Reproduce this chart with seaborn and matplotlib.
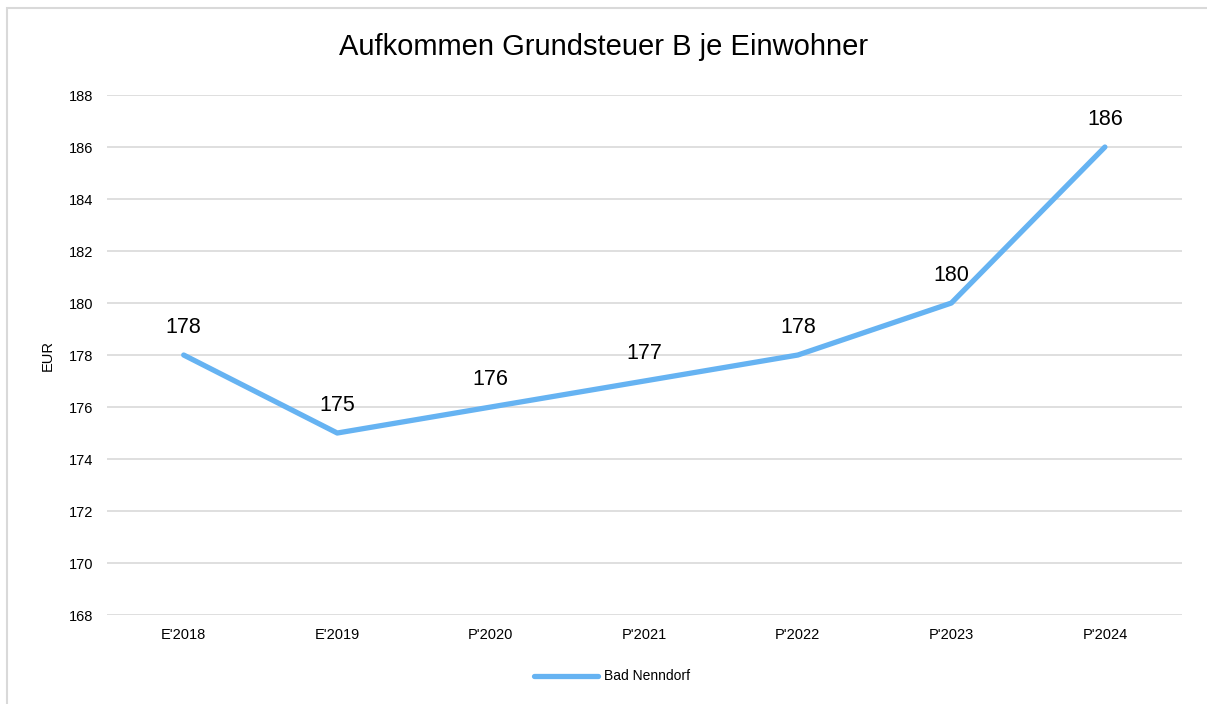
import matplotlib
matplotlib.use("Agg")
import matplotlib.pyplot as plt
import seaborn as sns
import pandas as pd
from matplotlib.patches import Rectangle

# Daten
jahre = ["E'2018", "E'2019", "P'2020", "P'2021", "P'2022", "P'2023", "P'2024"]
werte = [178, 175, 176, 177, 178, 180, 186]
serie = "Bad Nenndorf"
y_ticks = [168, 170, 172, 174, 176, 178, 180, 182, 184, 186, 188]

sns.set_theme(style="white")
plt.rcParams["font.family"] = ["Liberation Sans", "DejaVu Sans"]
plt.rcParams["text.color"] = "#000000"

df = pd.DataFrame({"Jahr": jahre, "EUR": werte, "Gemeinde": serie})
farbe = "#66B3F2"

fig = plt.figure(figsize=(12.07, 7.04), dpi=100)
ax = fig.add_axes([0.0886, 0.1264, 0.8904, 0.7386])

sns.lineplot(data=df, x="Jahr", y="EUR", hue="Gemeinde", palette=[farbe],
             linewidth=3.8, sort=False, ax=ax, legend=True)
for line in ax.get_lines():
    line.set_solid_capstyle("round")
    line.set_solid_joinstyle("round")

for i, v in enumerate(werte):
    ax.annotate(str(v), (i, v), xytext=(0, 12), textcoords="offset points",
                ha="center", va="bottom", fontsize=15.5, color="#000000")

ax.set_xlim(-0.5, len(jahre) - 0.5)
ax.set_ylim(168, 188)
ax.set_yticks(y_ticks)
ax.yaxis.grid(True, color="#D9D9D9", linewidth=1.2)
ax.xaxis.grid(False)
for s in ax.spines.values():
    s.set_visible(False)
ax.tick_params(axis="both", length=0, labelsize=10.5, colors="#000000")
ax.tick_params(axis="y", pad=10)
ax.tick_params(axis="x", pad=9)
ax.set_xlabel("")
ax.set_ylabel("EUR", fontsize=10.5, labelpad=10, color="#000000")

fig.text(0.5, 1 - 47 / 704, "Aufkommen Grundsteuer B je Einwohner",
         fontsize=21, ha="center", va="center", color="#000000")

leg = ax.legend(loc="center", bbox_to_anchor=(0.47, -0.118), frameon=False,
                fontsize=10, handlelength=4.6, handletextpad=0.4)
for h in leg.get_lines():
    h.set_linewidth(3.8)
    h.set_solid_capstyle("round")

fig.patches.append(Rectangle((7 / 1207, -0.1), 1.5, 1 - 8 / 704 + 0.1,
                             transform=fig.transFigure, fill=False,
                             edgecolor="#D9D9D9", linewidth=1.5))

fig.savefig("out.png", dpi=100)
